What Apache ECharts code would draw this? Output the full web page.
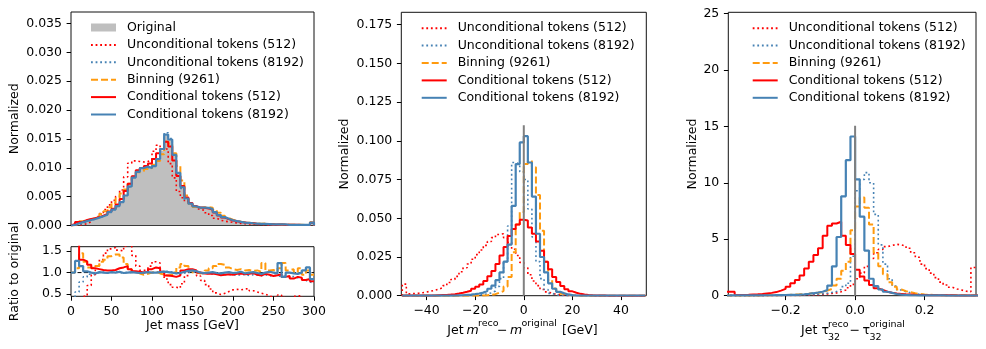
<!DOCTYPE html>
<html><head><meta charset="utf-8">
<script src="https://cdn.jsdelivr.net/npm/echarts@6/dist/echarts.min.js"></script>
<style>html,body{margin:0;padding:0;background:#fff}#c{width:986px;height:349px}</style>
</head><body><div id="c"></div>
<script>
// ---------------- DATA ----------------
const seriesNames = ['Unconditional tokens (512)','Unconditional tokens (8192)','Binning (9261)','Conditional tokens (512)','Conditional tokens (8192)'];
const originalName = 'Original';

// Panel 1: jet mass, bins of 5 GeV from 0
const massBinStart = 0, massBinWidth = 5;
const massRange = [0, 300];
const massOriginal = [0.00010,0.00030,0.00050,0.00075,0.00095,0.00115,0.00135,0.00160,0.00190,0.00230,0.00275,0.00330,0.00410,0.00520,0.00670,0.00830,0.00940,0.00995,0.01010,0.00995,0.01030,0.01140,0.01300,0.01560,0.01490,0.01250,0.00920,0.00650,0.00450,0.00360,0.00320,0.00310,0.00315,0.00305,0.00280,0.00235,0.00185,0.00145,0.00115,0.00092,0.00075,0.00062,0.00052,0.00045,0.00039,0.00034,0.00030,0.00027,0.00024,0.00021,0.00019,0.00017,0.00015,0.00014,0.00013,0.00012,0.00011,0.00010,0.00010,0.00060];
const massUncond512 = [0.00001,0.00006,0.00015,0.00034,0.00067,0.00109,0.00155,0.00208,0.00276,0.00357,0.00435,0.00502,0.00615,0.00842,0.01080,0.01120,0.01110,0.01100,0.01110,0.01144,0.01288,0.01391,0.01326,0.01326,0.01073,0.00825,0.00589,0.00481,0.00419,0.00378,0.00330,0.00285,0.00258,0.00220,0.00174,0.00125,0.00091,0.00075,0.00064,0.00055,0.00046,0.00037,0.00032,0.00028,0.00023,0.00019,0.00016,0.00014,0.00011,0.00009,0.00008,0.00008,0.00006,0.00006,0.00005,0.00005,0.00005,0.00004,0.00004,0.00018];
const massUncond8192 = [0.00002,0.00017,0.00039,0.00068,0.00091,0.00113,0.00135,0.00162,0.00188,0.00230,0.00280,0.00330,0.00406,0.00525,0.00670,0.00847,0.00950,0.00995,0.01000,0.00995,0.01040,0.01140,0.01326,0.01607,0.01505,0.01225,0.00883,0.00644,0.00450,0.00367,0.00320,0.00304,0.00306,0.00299,0.00272,0.00226,0.00179,0.00138,0.00110,0.00086,0.00071,0.00058,0.00050,0.00042,0.00037,0.00032,0.00028,0.00026,0.00022,0.00020,0.00018,0.00015,0.00014,0.00013,0.00012,0.00011,0.00009,0.00008,0.00008,0.00046];
const massBinning = [0.00010,0.00033,0.00073,0.00094,0.00106,0.00127,0.00155,0.00200,0.00247,0.00317,0.00390,0.00469,0.00554,0.00624,0.00724,0.00847,0.00921,0.00945,0.00980,0.00995,0.01051,0.01117,0.01235,0.01451,0.01416,0.01250,0.01030,0.00780,0.00518,0.00378,0.00320,0.00304,0.00315,0.00320,0.00308,0.00270,0.00222,0.00171,0.00129,0.00099,0.00080,0.00067,0.00055,0.00048,0.00041,0.00036,0.00031,0.00033,0.00025,0.00022,0.00019,0.00019,0.00018,0.00015,0.00014,0.00012,0.00012,0.00010,0.00011,0.00057];
const massCond512 = [0.00025,0.00060,0.00065,0.00095,0.00112,0.00127,0.00146,0.00170,0.00200,0.00242,0.00292,0.00363,0.00459,0.00598,0.00724,0.00855,0.00959,0.00995,0.01030,0.01075,0.01154,0.01254,0.01326,0.01450,0.01371,0.01125,0.00856,0.00683,0.00486,0.00389,0.00336,0.00310,0.00309,0.00296,0.00274,0.00226,0.00174,0.00138,0.00110,0.00087,0.00073,0.00061,0.00050,0.00044,0.00039,0.00032,0.00028,0.00026,0.00023,0.00019,0.00018,0.00016,0.00014,0.00013,0.00011,0.00011,0.00010,0.00008,0.00009,0.00048];
const massCond8192 = [0.00010,0.00038,0.00058,0.00077,0.00095,0.00113,0.00136,0.00160,0.00188,0.00232,0.00275,0.00337,0.00406,0.00520,0.00677,0.00830,0.00930,0.00995,0.01020,0.00995,0.01030,0.01151,0.01326,0.01576,0.01490,0.01225,0.00911,0.00663,0.00468,0.00378,0.00330,0.00310,0.00312,0.00305,0.00283,0.00233,0.00181,0.00145,0.00116,0.00091,0.00075,0.00063,0.00051,0.00045,0.00039,0.00034,0.00029,0.00027,0.00024,0.00021,0.00019,0.00019,0.00018,0.00012,0.00013,0.00012,0.00012,0.00010,0.00011,0.00051];

// Panel 1 ratio to original
const ratioUncond512 = [0.10,0.20,0.30,0.45,0.70,0.95,1.15,1.30,1.45,1.55,1.58,1.52,1.50,1.62,1.70,1.40,1.15,1.05,1.08,1.15,1.25,1.22,1.02,0.85,0.72,0.66,0.64,0.74,0.93,1.05,1.03,0.92,0.82,0.72,0.62,0.53,0.49,0.52,0.56,0.60,0.61,0.60,0.62,0.63,0.58,0.55,0.52,0.50,0.46,0.43,0.42,0.48,0.42,0.40,0.38,0.45,0.47,0.40,0.35,0.30];
const ratioUncond8192 = [0.20,0.55,0.78,0.90,0.96,0.98,1.00,1.01,0.99,1.00,1.02,1.00,0.99,1.01,1.00,1.02,1.01,1.00,0.99,1.00,1.01,1.00,1.02,1.03,1.01,0.98,0.96,0.99,1.00,1.02,1.00,0.98,0.97,0.98,0.97,0.96,0.97,0.95,0.96,0.94,0.95,0.94,0.96,0.93,0.95,0.94,0.93,0.95,0.92,0.94,0.93,0.90,0.92,0.90,0.91,0.88,0.85,0.82,0.78,0.76];
const ratioBinning = [1.00,1.10,1.45,1.25,1.12,1.10,1.15,1.25,1.30,1.38,1.42,1.42,1.35,1.20,1.08,1.02,0.98,0.95,0.97,1.00,1.02,0.98,0.95,0.93,0.95,1.00,1.12,1.20,1.15,1.05,1.00,0.98,1.00,1.05,1.10,1.15,1.20,1.18,1.12,1.08,1.06,1.08,1.05,1.06,1.04,1.05,1.02,1.22,1.05,1.06,1.02,1.10,1.22,1.05,1.08,1.00,1.10,0.95,1.05,0.95];
const ratioCond512 = [2.50,2.00,1.30,1.26,1.18,1.10,1.08,1.06,1.05,1.05,1.06,1.10,1.12,1.15,1.08,1.03,1.02,1.00,1.02,1.08,1.12,1.10,1.02,0.93,0.92,0.90,0.93,1.05,1.08,1.08,1.05,1.00,0.98,0.97,0.98,0.96,0.94,0.95,0.96,0.95,0.97,0.98,0.96,0.97,0.99,0.95,0.93,0.97,0.95,0.92,0.94,0.96,0.90,0.92,0.86,0.90,0.88,0.83,0.85,0.80];
const ratioCond8192 = [1.00,1.27,1.15,1.03,1.00,0.98,1.01,1.00,0.99,1.01,1.00,1.02,0.99,1.00,1.01,1.00,0.99,1.00,1.01,1.00,1.00,1.01,1.02,1.01,1.00,0.98,0.99,1.02,1.04,1.05,1.03,1.00,0.99,1.00,1.01,0.99,0.98,1.00,1.01,0.99,1.00,1.02,0.98,1.00,1.01,0.99,0.97,1.00,1.02,1.00,0.98,1.22,0.90,1.00,0.98,0.97,1.00,1.05,1.12,0.85];
const ratioReference = [1, 1];

const massXTicks = [0,50,100,150,200,250,300];
const massYTicks = [0,0.005,0.010,0.015,0.020,0.025,0.030,0.035];
const massYMax = 0.037;
const ratioYTicks = [0.5,1.0,1.5];
const ratioYRange = [0.45, 1.6];

// Panel 2: jet mass residual, 60 bins from -50 to 50
const dmBinStart = -50, dmBinWidth = 100/60;
const dmRange = [-50.4, 50.4];
const dmUncond512 = [0.0075,0.0012,0.0014,0.0016,0.0019,0.0024,0.0029,0.0035,0.0042,0.0052,0.0065,0.0085,0.0105,0.0125,0.0155,0.0180,0.0205,0.0235,0.0265,0.0295,0.0325,0.0350,0.0375,0.0395,0.0400,0.0375,0.0345,0.0300,0.0260,0.0215,0.0180,0.0135,0.0095,0.0065,0.0040,0.0025,0.0015,0.0009,0.0005,0.0003,0.0002,0.0001,0.0001,0.0001,0,0,0,0,0,0,0,0,0,0,0,0,0,0,0,0];
const dmUncond8192 = [0,0,0,0,0,0,0,0,0,0,0,0,0.0001,0.0001,0.0001,0.0001,0.0002,0.0003,0.0005,0.0008,0.0012,0.0018,0.0030,0.0060,0.0110,0.0220,0.0450,0.0860,0.0850,0.0800,0.0750,0.0560,0.0380,0.0220,0.0110,0.0040,0.0015,0.0006,0.0002,0.0001,0,0,0,0,0,0,0,0,0,0,0,0,0,0,0,0,0,0,0,0];
const dmBinning = [0,0,0,0,0,0,0,0,0,0,0,0,0,0,0,0,0,0,0.0001,0.0001,0.0003,0.0006,0.0010,0.0020,0.0030,0.0060,0.0120,0.0280,0.0460,0.0540,0.0850,0.0870,0.0830,0.0650,0.0420,0.0220,0.0100,0.0046,0.0026,0.0013,0.0006,0.0003,0.0001,0,0,0,0,0,0,0,0,0,0,0,0,0,0,0,0,0];
const dmCond512 = [0.0001,0.0001,0.0001,0.0001,0.0001,0.0001,0.0002,0.0002,0.0003,0.0004,0.0005,0.0007,0.0010,0.0014,0.0019,0.0025,0.0032,0.0045,0.0058,0.0072,0.0095,0.0125,0.0160,0.0205,0.0260,0.0315,0.0385,0.0430,0.0460,0.0490,0.0485,0.0440,0.0400,0.0350,0.0290,0.0220,0.0170,0.0120,0.0088,0.0062,0.0042,0.0028,0.0019,0.0012,0.0008,0.0005,0.0003,0.0002,0.0001,0.0001,0,0,0,0,0,0,0,0,0,0];
const dmCond8192 = [0,0,0,0,0,0,0.0001,0.0001,0.0001,0.0001,0.0001,0.0001,0.0001,0.0002,0.0003,0.0005,0.0007,0.0010,0.0014,0.0020,0.0030,0.0045,0.0065,0.0100,0.0150,0.0220,0.0330,0.0580,0.0850,0.0990,0.1030,0.0860,0.0640,0.0400,0.0250,0.0150,0.0080,0.0045,0.0025,0.0015,0.0008,0.0004,0.0002,0.0001,0.0001,0.0001,0,0,0,0,0,0,0,0,0,0,0,0,0,0];
const dmXTicks = [-40,-20,0,20,40];
const dmYTicks = [0,0.025,0.050,0.075,0.100,0.125,0.150,0.175];
const dmYMax = 0.183;
const dmZeroLine = {x: 0, y: [0, 0.11]};

// Panel 3: tau32 residual, 55 bins of 0.01333 from -0.37333
const dtBinStart = -0.37333, dtBinWidth = 0.013333;
const dtRange = [-0.365, 0.348];
const dtUncond512 = [0.01,0.01,0.01,0.01,0.01,0.01,0.01,0.01,0.01,0.02,0.02,0.02,0.02,0.02,0.03,0.03,0.04,0.05,0.07,0.09,0.12,0.15,0.20,0.25,0.35,0.50,0.70,1.00,1.50,2.00,2.60,3.30,3.80,4.10,4.35,4.45,4.55,4.50,4.40,4.20,3.80,3.40,2.80,2.40,2.00,1.60,1.20,0.95,0.75,0.60,0.50,0.40,0.35,2.50,2.50];
const dtUncond8192 = [0.01,0.01,0.01,0.01,0.01,0.01,0.01,0.02,0.02,0.02,0.02,0.03,0.03,0.04,0.05,0.06,0.07,0.08,0.10,0.13,0.17,0.22,0.28,0.38,0.55,0.80,1.10,3.50,9.30,10.30,10.90,10.00,7.20,4.50,2.80,1.50,0.85,0.50,0.35,0.25,0.17,0.12,0.08,0.06,0.05,0.04,0.03,0.03,0.02,0.02,0.02,0.02,0.01,0.01,0.01];
const dtBinning = [0.01,0.01,0.01,0.01,0.02,0.02,0.02,0.03,0.03,0.04,0.05,0.06,0.07,0.08,0.10,0.12,0.15,0.18,0.22,0.26,0.30,0.45,0.60,0.90,1.50,2.20,3.00,5.80,7.90,8.70,7.80,6.30,3.80,2.60,1.90,1.20,0.80,0.55,0.40,0.30,0.22,0.15,0.10,0.08,0.06,0.05,0.04,0.04,0.03,0.03,0.03,0.02,0.02,0.02,0.02];
const dtCond512 = [0.35,0.35,0.06,0.07,0.08,0.10,0.12,0.15,0.20,0.25,0.32,0.45,0.60,0.80,1.10,1.40,1.80,2.40,3.00,3.60,4.20,5.30,6.20,6.40,6.55,5.30,4.50,3.70,2.30,1.70,1.35,0.95,0.65,0.50,0.35,0.27,0.20,0.16,0.12,0.10,0.08,0.07,0.06,0.05,0.04,0.04,0.03,0.03,0.03,0.02,0.02,0.02,0.02,0.02,0.02];
const dtCond8192 = [0.02,0.02,0.02,0.02,0.02,0.03,0.03,0.03,0.04,0.04,0.05,0.05,0.06,0.07,0.08,0.10,0.13,0.17,0.22,0.28,0.35,0.50,0.90,2.60,5.20,8.80,12.00,14.10,10.30,7.00,4.00,1.50,0.85,0.55,0.35,0.25,0.15,0.10,0.07,0.05,0.04,0.03,0.03,0.02,0.02,0.02,0.02,0.01,0.01,0.01,0.01,0.01,0.01,0.01,0.01];
const dtXTicks = [-0.2,0.0,0.2];
const dtYTicks = [0,5,10,15,20,25];
const dtYMax = 25.1;
const dtZeroLine = {x: 0, y: [0, 15.05]};

// ---------------- STYLE ----------------
const FONT = 'DejaVu Sans';
const FS = 12.5;
const RED = '#ff0000', BLUE = '#4682b4', ORANGE = '#ff9a0e', GREY = '#bfbfbf';
const lineStyles = {
  'Unconditional tokens (512)':  {color: RED, type: [1.8, 2.8], width: 1.6},
  'Unconditional tokens (8192)': {color: BLUE, type: [1.8, 2.8], width: 1.6},
  'Binning (9261)':              {color: ORANGE, type: [7, 3], width: 2},
  'Conditional tokens (512)':    {color: RED, type: 'solid', width: 2},
  'Conditional tokens (8192)':   {color: BLUE, type: 'solid', width: 2.2}
};

function histPoints(start, width, vals, closed) {
  const pts = [];
  if (closed) pts.push([start, 0]);
  for (let i = 0; i < vals.length; i++) pts.push([start + i * width, vals[i]]);
  const end = start + vals.length * width;
  pts.push([end, vals[vals.length - 1]]);
  if (closed) pts.push([end, 0]);
  return pts;
}

function stepSeries(name, gi, start, width, vals, closed) {
  const s = lineStyles[name];
  return {
    type: 'line', name: name, xAxisIndex: gi, yAxisIndex: gi, step: 'end',
    symbol: 'none', showSymbol: false, silent: true, animation: false,
    data: histPoints(start, width, vals, closed),
    lineStyle: {color: s.color, type: s.type, width: s.width},
    itemStyle: {color: s.color}
  };
}

function xAxisCfg(gi, range, ticks, fmt, showLabels, name, nameGap) {
  return {
    type: 'value', gridIndex: gi, min: range[0], max: range[1],
    splitLine: {show: false}, axisLine: {show: false, onZero: false},
    axisTick: {show: showLabels, inside: false, length: 4.4, customValues: ticks, lineStyle: {color: '#000', width: 1}},
    axisLabel: {show: showLabels, customValues: ticks, formatter: fmt, color: '#000', fontFamily: FONT, fontSize: FS, margin: 9},
    name: name || '', nameLocation: 'middle', nameGap: nameGap || 0,
    nameTextStyle: {color: '#000', fontFamily: FONT, fontSize: FS}
  };
}
function yAxisCfg(gi, range, ticks, fmt, name, nameGap) {
  return {
    type: 'value', gridIndex: gi, min: range[0], max: range[1], position: 'left',
    splitLine: {show: false}, axisLine: {show: false, onZero: false},
    axisTick: {show: true, inside: false, length: 4.4, customValues: ticks, lineStyle: {color: '#000', width: 1}},
    axisLabel: {customValues: ticks, formatter: fmt, color: '#000', fontFamily: FONT, fontSize: FS, margin: 9},
    name: name, nameLocation: 'middle', nameGap: nameGap, nameRotate: 90,
    nameTextStyle: {color: '#000', fontFamily: FONT, fontSize: FS}
  };
}
const minus = v => (v < 0 ? '\u2212' : '');
const fmtInt = v => minus(v) + Math.abs(v);
const fmt1 = v => minus(v) + Math.abs(v).toFixed(1);
const fmt3 = v => v.toFixed(3);

const gridBox = {show: true, borderColor: '#111', borderWidth: 1, backgroundColor: 'transparent'};
const grids = [
  Object.assign({left: 71, top: 12, width: 243, height: 213.5}, gridBox),
  Object.assign({left: 71, top: 246.7, width: 243, height: 49.6}, gridBox),
  Object.assign({left: 401.3, top: 12.3, width: 245, height: 283.4}, gridBox),
  Object.assign({left: 728.3, top: 12.3, width: 247.7, height: 283.4}, gridBox)
];

const series = [];
// panel 1 original filled
series.push({
  type: 'line', name: originalName, xAxisIndex: 0, yAxisIndex: 0, step: 'end',
  symbol: 'none', showSymbol: false, silent: true,
  data: histPoints(massBinStart, massBinWidth, massOriginal, true),
  lineStyle: {width: 0, color: GREY}, itemStyle: {color: GREY},
  areaStyle: {color: GREY, opacity: 1}
});
const massSets = [massUncond512, massUncond8192, massBinning, massCond512, massCond8192];
const ratioSets = [ratioUncond512, ratioUncond8192, ratioBinning, ratioCond512, ratioCond8192];
const dmSets = [dmUncond512, dmUncond8192, dmBinning, dmCond512, dmCond8192];
const dtSets = [dtUncond512, dtUncond8192, dtBinning, dtCond512, dtCond8192];
seriesNames.forEach((n, k) => series.push(stepSeries(n, 0, massBinStart, massBinWidth, massSets[k], true)));
// ratio reference line
series.push({type: 'line', xAxisIndex: 1, yAxisIndex: 1, symbol: 'none', silent: true,
  data: massRange.map((x, i) => [x, ratioReference[i]]),
  lineStyle: {color: '#000', type: [4, 2.5], width: 1}});
seriesNames.forEach((n, k) => series.push(stepSeries(n, 1, massBinStart, massBinWidth, ratioSets[k], false)));
seriesNames.forEach((n, k) => series.push(stepSeries(n, 2, dmBinStart, dmBinWidth, dmSets[k], true)));
series.push({type: 'line', xAxisIndex: 2, yAxisIndex: 2, symbol: 'none', silent: true,
  data: dmZeroLine.y.map(y => [dmZeroLine.x, y]), lineStyle: {color: '#808080', width: 2}});
seriesNames.forEach((n, k) => series.push(stepSeries(n, 3, dtBinStart, dtBinWidth, dtSets[k], true)));
series.push({type: 'line', xAxisIndex: 3, yAxisIndex: 3, symbol: 'none', silent: true,
  data: dtZeroLine.y.map(y => [dtZeroLine.x, y]), lineStyle: {color: '#808080', width: 2}});

function legendCfg(left, withOriginal) {
  const data = [];
  if (withOriginal) data.push({name: originalName, icon: 'path://M0,0L25,0L25,8L0,8Z', itemStyle: {color: GREY, opacity: 1}});
  seriesNames.forEach(n => data.push({name: n, itemStyle: {opacity: 0}}));
  return {
    orient: 'vertical', left: left, top: withOriginal ? 21 : 21.7, itemWidth: 25, itemHeight: 14, itemGap: 4.4,
    selectedMode: false, padding: 0, symbolKeepAspect: true,
    textStyle: {fontFamily: FONT, fontSize: FS, color: '#000', padding: [0, 0, 0, 6]},
    data: data
  };
}

const small = 9.5;
function txt(x, y, t, size, italic) {
  return {type: 'text', x: x, y: y, silent: true,
    style: {text: t, fill: '#000', fontFamily: FONT, fontSize: size, fontStyle: italic ? 'italic' : 'normal',
      align: 'left', verticalAlign: 'middle'}};
}
const graphic = [
  txt(447.3, 330.5, 'Jet', FS), txt(466.5, 330.5, 'm', FS, true), txt(478, 324, 'reco', small),
  txt(497, 330.5, '\u2212', FS), txt(510, 330.5, 'm', FS, true), txt(521.5, 324, 'original', small),
  txt(562, 330.5, '[GeV]', FS),
  txt(801, 331, 'Jet', FS), txt(821.5, 331, '\u03c4', FS), txt(828, 324.5, 'reco', small), txt(828, 337.5, '32', small),
  txt(849.5, 331, '\u2212', FS), txt(862.5, 331, '\u03c4', FS), txt(869.5, 324.5, 'original', small), txt(869.5, 337.5, '32', small)
];

const option = {
  animation: false,
  backgroundColor: '#fff',
  textStyle: {fontFamily: FONT},
  grid: grids,
  xAxis: [
    xAxisCfg(0, massRange, massXTicks, fmtInt, false),
    xAxisCfg(1, massRange, massXTicks, fmtInt, true, 'Jet mass [GeV]', 23),
    xAxisCfg(2, dmRange, dmXTicks, fmtInt, true),
    xAxisCfg(3, dtRange, dtXTicks, fmt1, true)
  ],
  yAxis: [
    yAxisCfg(0, [0, massYMax], massYTicks, fmt3, 'Normalized', 50),
    yAxisCfg(1, ratioYRange, ratioYTicks, fmt1, 'Ratio to original', 50),
    yAxisCfg(2, [0, dmYMax], dmYTicks, fmt3, 'Normalized', 50),
    yAxisCfg(3, [0, dtYMax], dtYTicks, fmtInt, 'Normalized', 24.6)
  ],
  legend: [legendCfg(90, true), legendCfg(420.7, false), legendCfg(751.7, false)],
  series: series,
  graphic: graphic
};
const chart = echarts.init(document.getElementById('c'), null, {renderer: 'canvas'});
chart.setOption(option);
</script>
</body></html>
